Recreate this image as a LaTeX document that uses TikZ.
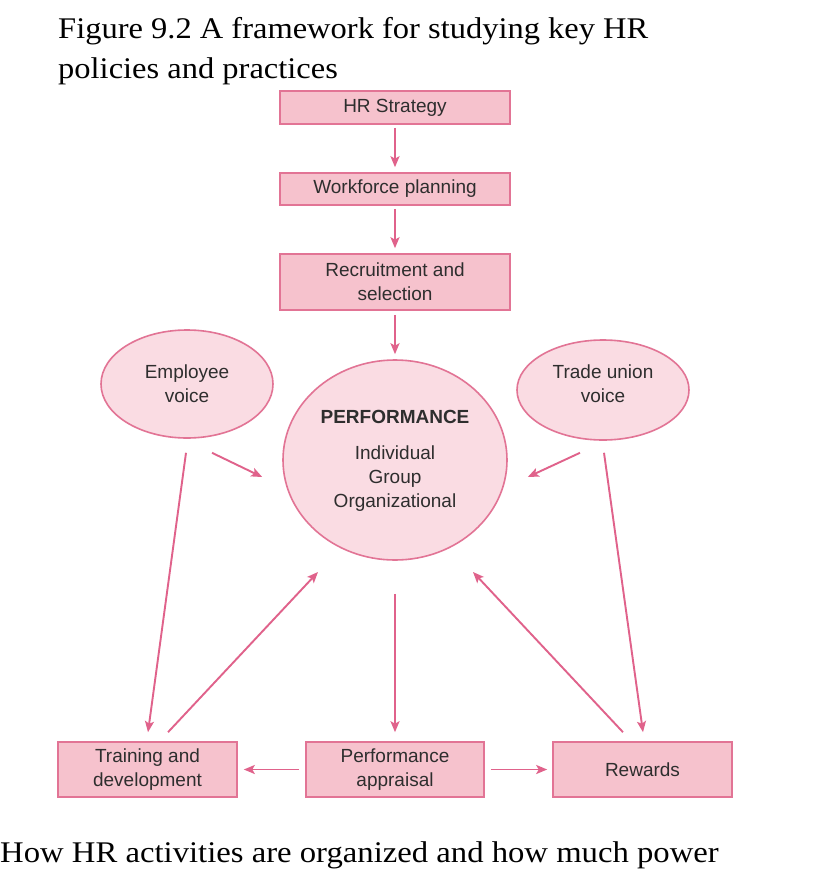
\documentclass[tikz,border=0pt]{standalone}
\usepackage{fontspec}
\setmainfont{Liberation Serif}
\newfontfamily\diagfont{Liberation Sans}
\usetikzlibrary{arrows.meta,calc,shapes.geometric}
\definecolor{boxfill}{HTML}{F6C2CD}
\definecolor{ellfill}{HTML}{FADCE3}
\definecolor{edge}{HTML}{E27495}
\definecolor{arrowc}{HTML}{E0628B}
\definecolor{txt}{HTML}{2E2E2E}
\begin{document}
\begin{tikzpicture}[x=1pt,y=-1pt,
  rbox/.style={draw=edge,fill=boxfill,line width=1.6pt,inner sep=0pt,align=center,
    text=txt,font=\diagfont\fontsize{19}{24}\selectfont},
  rell/.style={ellipse,draw=edge,fill=ellfill,line width=1.6pt,inner sep=0pt},
  etext/.style={inner sep=0pt,align=center,text=txt,font=\diagfont\fontsize{19}{24}\selectfont},
  arr/.style={draw=arrowc,line width=1.9pt,-{Stealth[length=11pt,width=9pt,inset=2.5pt]}},
  caption/.style={anchor=base west,inner sep=0pt,font=\fontsize{30}{40}\selectfont}
]
\useasboundingbox (0,0) rectangle (812,878);
\fill[white] (0,0) rectangle (812,878);

% captions
\node[caption] (t1) at (58,38) {\scalebox{1.083}[1]{Figure 9.2 A framework for studying key HR}};
\node[caption] (t2) at (58,78) {\scalebox{1.083}[1]{policies and practices}};
\node[caption] (t3) at (0,862) {\scalebox{1.09}[1]{How HR activities are organized and how much power}};

% top boxes
\node[rbox,minimum width=230pt,minimum height=33pt] (hr) at (395,107.5) {HR Strategy};
\node[rbox,minimum width=230pt,minimum height=32pt] (wp) at (395,189) {Workforce planning};
\node[rbox,minimum width=230pt,minimum height=56pt] (rs) at (395,282) {Recruitment and\\selection};

% ellipses
\node[rell,minimum width=172pt,minimum height=108pt] (ev) at (187,384) {};
\node[etext] (evt) at (187,384) {Employee\\voice};
\node[rell,minimum width=172pt,minimum height=100pt] (tu) at (603,390) {};
\node[etext] (tut) at (603,384) {Trade union\\voice};
\node[rell,minimum width=224pt,minimum height=200pt] (perf) at (395,460) {};
\node[etext,font=\diagfont\bfseries\fontsize{19}{24}\selectfont] (pft) at (395,417) {PERFORMANCE};
\node[etext] (pfl) at (395,479) {Individual\\Group\\Organizational};

% bottom boxes
\node[rbox,minimum width=179pt,minimum height=55pt] (td) at (147.5,769.5) {Training and\\development};
\node[rbox,minimum width=178pt,minimum height=55pt] (pa) at (395,769.5) {Performance\\appraisal};
\node[rbox,minimum width=179pt,minimum height=55pt] (rw) at (642.5,769.5) {Rewards};

% vertical chain
\draw[arr,shorten <=3pt,shorten >=5pt] (hr) -- (wp);
\draw[arr,shorten <=3pt,shorten >=5pt] (wp) -- (rs);
\draw[arr,shorten <=4pt,shorten >=5pt] (rs) -- (perf);

% voices
\draw[arr] ($(ev.south)+(25,14)$) -- ($(perf.west)+(-20,17)$);
\draw[arr] ($(ev.south)+(-1,14)$) -- ($(td.north)+(0.5,-9)$);
\draw[arr] ($(tu.south)+(-23,12)$) -- ($(perf.east)+(20,17)$);
\draw[arr] ($(tu.south)+(1,12)$) -- ($(rw.north)+(0.5,-9)$);

% performance loop
\draw[arr] ($(td.north)+(20.5,-9)$) -- ($(perf.center)+(-77,112)$);
\draw[arr] ($(rw.north)+(-19.5,-9)$) -- ($(perf.center)+(78,112)$);
\draw[arr] ($(perf.south)+(0,33)$) -- ($(pa.north)+(0,-9)$);
\draw[arr,shorten <=6pt,shorten >=6pt] (pa) -- (td);
\draw[arr,shorten <=6pt,shorten >=5pt] (pa) -- (rw);
\end{tikzpicture}
\end{document}
